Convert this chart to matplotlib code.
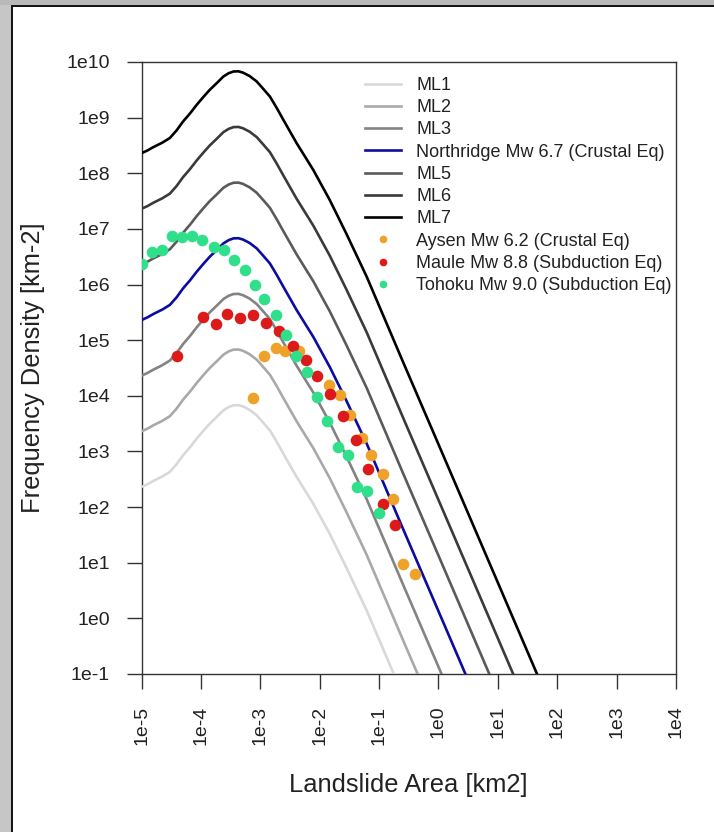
import matplotlib
matplotlib.use("Agg")
import matplotlib.pyplot as plt
from matplotlib.lines import Line2D
from matplotlib.patches import Rectangle
import numpy as np

plt.rcParams['font.family'] = ['Liberation Sans', 'DejaVu Sans']

# model curve for the largest level (ML7); lower levels share the shape
curve_area = [1e-5, 1.26e-5, 1.58e-5, 2.24e-5, 3.0e-5, 3.9e-5, 5.0e-5, 6.6e-5,
              8.5e-5, 1.1e-4, 1.41e-4, 1.86e-4, 2.4e-4, 2.95e-4, 3.55e-4, 4.3e-4,
              5.1e-4, 6.6e-4, 8.7e-4, 1.12e-3, 1.45e-3, 1.9e-3, 2.45e-3, 4.1e-3,
              7.8e-3, 1.48e-2, 2.8e-2, 6.2e-2, 0.25, 1.0, 7.4, 45.7, 158.0]
curve_ml7 = [2.3e8, 2.57e8, 2.95e8, 3.55e8, 4.3e8, 5.9e8, 8.5e8, 1.2e9,
             1.7e9, 2.35e9, 3.16e9, 4.2e9, 5.5e9, 6.3e9, 6.76e9, 6.8e9,
             6.45e9, 5.6e9, 4.47e9, 3.3e9, 2.4e9, 1.48e9, 9.1e8, 3.47e8,
             1.15e8, 3.3e7, 8.3e6, 1.38e6, 4.2e4, 1.35e3, 9.3, 0.1, 4.6e-3]

level_names = ['ML1', 'ML2', 'ML3', 'Northridge Mw 6.7 (Crustal Eq)', 'ML5', 'ML6', 'ML7']
level_peaks = [6.8e3, 6.8e4, 6.8e5, 6.8e6, 6.8e7, 6.8e8, 6.8e9]
level_colors = ['#d9d9d9', '#a9a9a9', '#838383', '#0c0ca0', '#5a5a5a', '#3a3a3a', '#000000']

# observed inventories
aysen_area = [7.6e-4, 1.17e-3, 1.82e-3, 2.63e-3, 4.5e-3, 1.41e-2, 2.19e-2, 3.3e-2,
              5.1e-2, 7.2e-2, 0.115, 0.174, 0.25, 0.40]
aysen_dens = [9.3e3, 5.1e4, 7.2e4, 6.5e4, 6.3e4, 1.55e4, 1.02e4, 4.5e3,
              1.74e3, 8.5e2, 4.0e2, 1.41e2, 9.5, 6.2]

maule_area = [3.9e-5, 1.08e-4, 1.78e-4, 2.75e-4, 4.6e-4, 7.6e-4, 1.26e-3, 2.04e-3,
              3.5e-3, 5.9e-3, 9.1e-3, 1.48e-2, 2.5e-2, 4.1e-2, 6.6e-2, 0.115, 0.186]
maule_dens = [5.1e4, 2.6e5, 1.95e5, 2.95e5, 2.5e5, 2.8e5, 2.0e5, 1.48e5,
              7.8e4, 4.4e4, 2.3e4, 1.07e4, 4.3e3, 1.62e3, 4.8e2, 1.15e2, 4.7e1]

tohoku_area = [1.02e-5, 1.51e-5, 2.19e-5, 3.2e-5, 4.9e-5, 7.2e-5, 1.05e-4, 1.66e-4,
               2.45e-4, 3.6e-4, 5.6e-4, 8.3e-4, 1.17e-3, 1.82e-3, 2.7e-3, 4.0e-3,
               6.2e-3, 9.1e-3, 1.32e-2, 2.0e-2, 2.95e-2, 4.3e-2, 6.3e-2, 9.8e-2]
tohoku_dens = [2.35e6, 3.8e6, 4.1e6, 7.4e6, 7.1e6, 7.4e6, 6.3e6, 4.8e6,
               4.1e6, 2.75e6, 1.82e6, 1.0e6, 5.6e5, 2.8e5, 1.26e5, 5.2e4,
               2.7e4, 9.5e3, 3.6e3, 1.2e3, 8.5e2, 2.3e2, 1.95e2, 7.8e1]

events = [('Aysen Mw 6.2 (Crustal Eq)', aysen_area, aysen_dens, '#eea22a'),
          ('Maule Mw 8.8 (Subduction Eq)', maule_area, maule_dens, '#dd1a1a'),
          ('Tohoku Mw 9.0 (Subduction Eq)', tohoku_area, tohoku_dens, '#2fdf8a')]

W, H = 714, 832
fig = plt.figure(figsize=(W / 100, H / 100), dpi=100)
fig.patch.set_facecolor('white')

# window frame around the plot
fig.add_artist(Rectangle((0, 0), 11 / W, 1, transform=fig.transFigure,
                         color='#c6c6c6', lw=0))
fig.add_artist(Rectangle((0, 1 - 5 / H), 1, 5 / H, transform=fig.transFigure,
                         color='#b9b9b9', lw=0))
fig.add_artist(Rectangle((11 / W, 0), 2 / W, 1 - 5 / H, transform=fig.transFigure,
                         color='#151515', lw=0))
fig.add_artist(Rectangle((11 / W, 1 - 7 / H), 1, 2 / H, transform=fig.transFigure,
                         color='#151515', lw=0))

ax = fig.add_axes([141.5 / W, 158 / H, (676 - 141.5) / W, (674 - 62) / H])
ax.set_xscale('log')
ax.set_yscale('log')

shape = np.array(curve_ml7) / level_peaks[-1]
for name, peak, col in zip(level_names, level_peaks, level_colors):
    ax.plot(curve_area, shape * peak, color=col, lw=1.9, zorder=3,
            solid_joinstyle='round')

for name, a, d, col in events:
    ax.scatter(a, d, s=70, color=col, linewidths=0, zorder=4)

ax.set_xlim(1e-5, 1e4)
ax.set_ylim(1e-1, 1e10)

xt = 10.0 ** np.arange(-5, 5)
yt = 10.0 ** np.arange(-1, 11)
ax.set_xticks(xt)
ax.set_xticklabels(['1e%d' % v for v in range(-5, 5)], rotation=90, va='top')
ax.set_yticks(yt)
ax.set_yticklabels(['1e%d' % v for v in range(-1, 11)])
ax.minorticks_off()
ax.tick_params(axis='both', direction='out', length=10.8, width=1.0,
               color='#333333', labelsize=14, pad=12, labelcolor='#222222')
for sp in ax.spines.values():
    sp.set_color('#333333')
    sp.set_linewidth(1.0)

fig.text(408.75 / W, 1 - 785 / H, 'Landslide Area [km2]', ha='center', va='center',
         fontsize=18.4, color='#222222')
fig.text(33 / W, 1 - 368 / H, 'Frequency Density [km-2]', ha='center', va='center',
         rotation=90, fontsize=18.4, color='#222222')

handles = [Line2D([], [], color=c, lw=1.9) for c in level_colors]
handles += [Line2D([], [], color=e[3], marker='o', ls='none', markersize=5.5,
                   markeredgewidth=0) for e in events]
labels = level_names + [e[0] for e in events]
ax.legend(handles, labels, loc='upper left', bbox_to_anchor=(365 / W, 1 - 77 / H),
          bbox_transform=fig.transFigure, frameon=False, fontsize=13,
          handlelength=2.0, handletextpad=0.83, labelspacing=0.29,
          borderpad=0, borderaxespad=0, labelcolor='#222222')

fig.savefig('out.png', dpi=100)
